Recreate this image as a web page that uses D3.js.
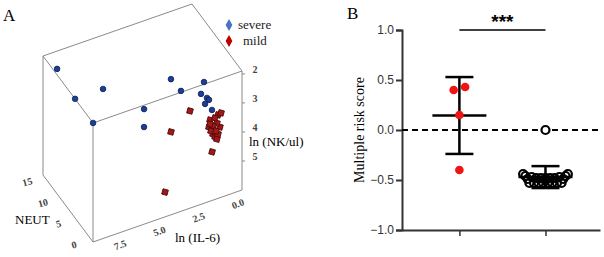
<!DOCTYPE html>
<html>
<head>
<meta charset="utf-8">
<script src="https://cdn.jsdelivr.net/npm/d3@7"></script>
<style>
  body { margin: 0; background: #fff; }
  svg { display: block; }
</style>
</head>
<body>
<div id="chart"></div>
<script>
// ---- panel A: 3D scatter (ln IL-6, NEUT, ln NK/ul)
var severeIL6  = [9.0, 8.65, 6.47, 8.3, 4.65, 5.45, 1.94, 1.9, 0.63, 1.02, 0.84, 0.71, 1.16, 0.92];
var severeNEUT = [14, 10, 12, 6, 8, 4, 13, 10, 9, 8, 7, 7, 6, 5];
var severeNK   = [2.15, 2.67, 3.03, 2.99, 3.49, 3.38, 3.69, 3.67, 3.46, 3.65, 3.68, 3.77, 3.68, 3.79];

var mildIL6  = [2.32, 3.93, 4.51, 1.51, 0.93, 0.54, 1.44, 1.51, 1.51, 1.45, 1.32, 1.2, 0.93, 0.81, 1.0, 1.05, 0.93, 1.24, 1.38, 1.06];
var mildNEUT = [5, 3, 2, 2, 3, 4, 3, 3, 2, 2, 2, 2, 3, 3, 3, 4, 4, 4, 3, 3];
var mildNK   = [3.56, 3.69, 5.51, 4.69, 3.67, 3.82, 3.75, 3.98, 3.94, 4.09, 4.21, 4.31, 4.33, 4.11, 3.94, 4.17, 3.92, 4.07, 4.14, 4.2];

var il6Ticks = [0, 2.5, 5, 7.5];
var neutTicks = [0, 5, 10, 15];
var nkTicks = [2, 3, 4, 5];

// ---- panel B: multiple risk score
var redScores  = [0.40, 0.43, 0.15, -0.40];
var redJitter  = [-0.1, 0.1, 0, 0];
var blackScores = [0.0, -0.44, -0.46, -0.49, -0.53, -0.47, -0.53, -0.48, -0.53, -0.48, -0.53, -0.48,
                   -0.53, -0.48, -0.53, -0.48, -0.53, -0.47, -0.53, -0.49, -0.46, -0.44];
var blackJitter = [0, -0.39, -0.35, -0.31, -0.28, -0.24, -0.2, -0.16, -0.12, -0.08, -0.04, 0,
                   0.04, 0.08, 0.12, 0.16, 0.2, 0.24, 0.28, 0.31, 0.35, 0.39];
var scoreTicks = [1.0, 0.5, 0.0, -0.5, -1.0];

var svg = d3.select("#chart")
    .append("svg")
    .attr("width", 604)
    .attr("height", 257);

var serif = "'Liberation Serif', 'Times New Roman', serif";
var sans = "'Liberation Sans', Arial, sans-serif";

// oblique projection of the box
var origin = [242, 190];
var il6X = d3.scaleLinear().domain([0, 9.5]).range([0, -149]);
var il6Y = d3.scaleLinear().domain([0, 9.5]).range([0, 52]);
var neutX = d3.scaleLinear().domain([0, 16]).range([0, -50]);
var neutY = d3.scaleLinear().domain([0, 16]).range([0, -67]);
var nkY = d3.scaleLinear().domain([1.9, 6.0]).range([-119, 0]);

function project(il6, neut, nk) {
    return [origin[0] + il6X(il6) + neutX(neut),
            origin[1] + il6Y(il6) + neutY(neut) + nkY(nk)];
}

var A = svg.append("g");

var iMax = 9.5, nMax = 16, kTop = 1.9, kBot = 6.0;
var edges = [
    [[0, 0, kTop], [iMax, 0, kTop]],
    [[iMax, 0, kTop], [iMax, nMax, kTop]],
    [[iMax, nMax, kTop], [0, nMax, kTop]],
    [[0, nMax, kTop], [0, 0, kTop]],
    [[0, 0, kTop], [0, 0, kBot]],
    [[iMax, 0, kTop], [iMax, 0, kBot]],
    [[iMax, nMax, kTop], [iMax, nMax, kBot]],
    [[0, 0, kBot], [iMax, 0, kBot]],
    [[iMax, 0, kBot], [iMax, nMax, kBot]]
];

A.selectAll(".edge")
    .data(edges)
    .enter().append("line")
    .attr("x1", d => project(...d[0])[0])
    .attr("y1", d => project(...d[0])[1])
    .attr("x2", d => project(...d[1])[0])
    .attr("y2", d => project(...d[1])[1])
    .attr("stroke", "#8a8a8a")
    .attr("stroke-width", 1);

// NK ticks on the right edge
A.selectAll(".nktick")
    .data(nkTicks)
    .enter().append("line")
    .attr("x1", d => project(0, 0, d)[0])
    .attr("x2", d => project(0, 0, d)[0] + 3)
    .attr("y1", d => project(0, 0, d)[1])
    .attr("y2", d => project(0, 0, d)[1])
    .attr("stroke", "#8a8a8a");

A.selectAll(".nklab")
    .data(nkTicks)
    .enter().append("text")
    .attr("x", d => project(0, 0, d)[0] + 13)
    .attr("y", d => project(0, 0, d)[1] - 1)
    .attr("text-anchor", "middle")
    .style("font-family", serif)
    .style("font-size", "10px")
    .style("font-weight", "bold")
    .attr("fill", "#444")
    .text(d => d);

A.selectAll(".il6lab")
    .data(il6Ticks)
    .enter().append("text")
    .attr("transform", d => {
        var p = project(d, 0, kBot);
        return "translate(" + (p[0] - 3) + "," + (p[1] + 17) + ") rotate(-20)";
    })
    .attr("text-anchor", "middle")
    .style("font-family", serif)
    .style("font-size", "10px")
    .style("font-weight", "bold")
    .attr("fill", "#444")
    .text(d3.format(".1f"));

A.selectAll(".neutlab")
    .data(neutTicks)
    .enter().append("text")
    .attr("transform", d => {
        var p = project(iMax, d, kBot);
        return "translate(" + (p[0] - 18) + "," + (p[1] + 6) + ") rotate(-15)";
    })
    .attr("text-anchor", "middle")
    .style("font-family", serif)
    .style("font-size", "10px")
    .style("font-weight", "bold")
    .attr("fill", "#444")
    .text(d => d);

A.append("text").attr("x", 249).attr("y", 146)
    .style("font-family", serif).style("font-size", "13px")
    .text("ln (NK/ul)");
A.append("text").attr("x", 175).attr("y", 242)
    .style("font-family", serif).style("font-size", "13px")
    .text("ln (IL-6)");
A.append("text").attr("x", 15).attr("y", 224)
    .style("font-family", serif).style("font-size", "13px")
    .text("NEUT");

var mild = mildIL6.map((v, i) => project(v, mildNEUT[i], mildNK[i]));
var severe = severeIL6.map((v, i) => project(v, severeNEUT[i], severeNK[i]));

A.selectAll(".mild")
    .data(mild)
    .enter().append("path")
    .attr("d", d3.symbol().type(d3.symbolSquare).size(30))
    .attr("transform", d => "translate(" + d[0] + "," + d[1] + ") rotate(15)")
    .attr("fill", "#a01818")
    .attr("stroke", "#4a0808")
    .attr("stroke-width", 0.8);

A.selectAll(".severe")
    .data(severe)
    .enter().append("circle")
    .attr("cx", d => d[0])
    .attr("cy", d => d[1])
    .attr("r", 2.8)
    .attr("fill", "#1d3d96")
    .attr("stroke", "#0c1f55")
    .attr("stroke-width", 0.8);

// legend
var legend = [{label: "severe", color: "#4673c6", x: 238, y: 25},
              {label: "mild", color: "#c00000", x: 243, y: 41}];
A.selectAll(".leg")
    .data(legend)
    .enter().append("path")
    .attr("d", d3.symbol().type(d3.symbolDiamond).size(40))
    .attr("transform", d => "translate(229," + d.y + ")")
    .attr("fill", d => d.color);
A.selectAll(".legtext")
    .data(legend)
    .enter().append("text")
    .attr("x", d => d.x)
    .attr("y", d => d.y + 4)
    .style("font-family", serif)
    .style("font-size", "13px")
    .attr("fill", "#222")
    .text(d => d.label);

svg.append("text").attr("x", 3).attr("y", 21)
    .style("font-family", serif).style("font-size", "17px").text("A");

// ---- panel B
var B = svg.append("g");
var yScale = d3.scaleLinear().domain([-1, 1]).range([230, 30]);
var xScale = d3.scaleLinear().domain([0, 3.45]).range([402, 600]);
var groups = [
    {x: 1, scores: redScores},
    {x: 2.5, scores: blackScores}
];

B.append("g")
    .attr("transform", "translate(402,0)")
    .call(d3.axisLeft(yScale).tickValues(scoreTicks).tickFormat(d3.format(".1f")).tickSize(6))
    .call(g => g.select(".domain").attr("stroke", "#333").attr("stroke-width", 2))
    .call(g => g.selectAll(".tick line").attr("stroke", "#333").attr("stroke-width", 2))
    .call(g => g.selectAll(".tick text").attr("fill", "#333")
        .style("font-family", sans).style("font-size", "12px").attr("x", -8));

B.append("g")
    .attr("transform", "translate(0,230)")
    .call(d3.axisBottom(xScale).tickValues([1, 2.5]).tickFormat("").tickSize(6).tickSizeOuter(0))
    .call(g => g.select(".domain").attr("stroke", "#333").attr("stroke-width", 2))
    .call(g => g.selectAll(".tick line").attr("stroke", "#333").attr("stroke-width", 1.5));

B.append("line")
    .attr("x1", 402).attr("x2", 600)
    .attr("y1", yScale(0)).attr("y2", yScale(0))
    .attr("stroke", "#000").attr("stroke-width", 2.2)
    .attr("stroke-dasharray", "6,4");

B.append("text")
    .attr("transform", "translate(364," + yScale(0) + ") rotate(-90)")
    .attr("text-anchor", "middle")
    .style("font-family", serif).style("font-size", "14px")
    .text("Multiple risk score");

// mean +/- SD
groups.forEach(function(g) {
    var m = d3.mean(g.scores), sd = d3.deviation(g.scores);
    var cx = xScale(g.x);
    var bar = B.append("g").attr("stroke", "#000").attr("stroke-width", 2.5);
    bar.append("line").attr("x1", cx).attr("x2", cx).attr("y1", yScale(m + sd)).attr("y2", yScale(m - sd));
    bar.append("line").attr("x1", cx - 27).attr("x2", cx + 27).attr("y1", yScale(m)).attr("y2", yScale(m));
    bar.append("line").attr("x1", cx - 14).attr("x2", cx + 14).attr("y1", yScale(m + sd)).attr("y2", yScale(m + sd));
    bar.append("line").attr("x1", cx - 14).attr("x2", cx + 14).attr("y1", yScale(m - sd)).attr("y2", yScale(m - sd));
});

// overlapping open circles: only the lone one at 0 hides the dashed line
B.selectAll(".black")
    .data(blackScores)
    .enter().append("circle")
    .attr("cx", (d, i) => xScale(2.5 + blackJitter[i]))
    .attr("cy", d => yScale(d))
    .attr("r", 4)
    .attr("fill", (d, i) => i === 0 ? "#fff" : "none")
    .attr("stroke", "#000")
    .attr("stroke-width", 2.2);

B.selectAll(".red")
    .data(redScores)
    .enter().append("circle")
    .attr("cx", (d, i) => xScale(1 + redJitter[i]))
    .attr("cy", d => yScale(d))
    .attr("r", 4.3)
    .attr("fill", "#f01414");

// significance
B.append("line")
    .attr("x1", xScale(1)).attr("x2", xScale(2.5))
    .attr("y1", 30).attr("y2", 30)
    .attr("stroke", "#000").attr("stroke-width", 1.5);
B.append("text")
    .attr("x", (xScale(1) + xScale(2.5)) / 2).attr("y", 28)
    .attr("text-anchor", "middle")
    .style("font-family", sans).style("font-size", "19px").style("font-weight", "bold")
    .text("***");

svg.append("text").attr("x", 347).attr("y", 19)
    .style("font-family", serif).style("font-size", "17px").text("B");
</script>
</body>
</html>
